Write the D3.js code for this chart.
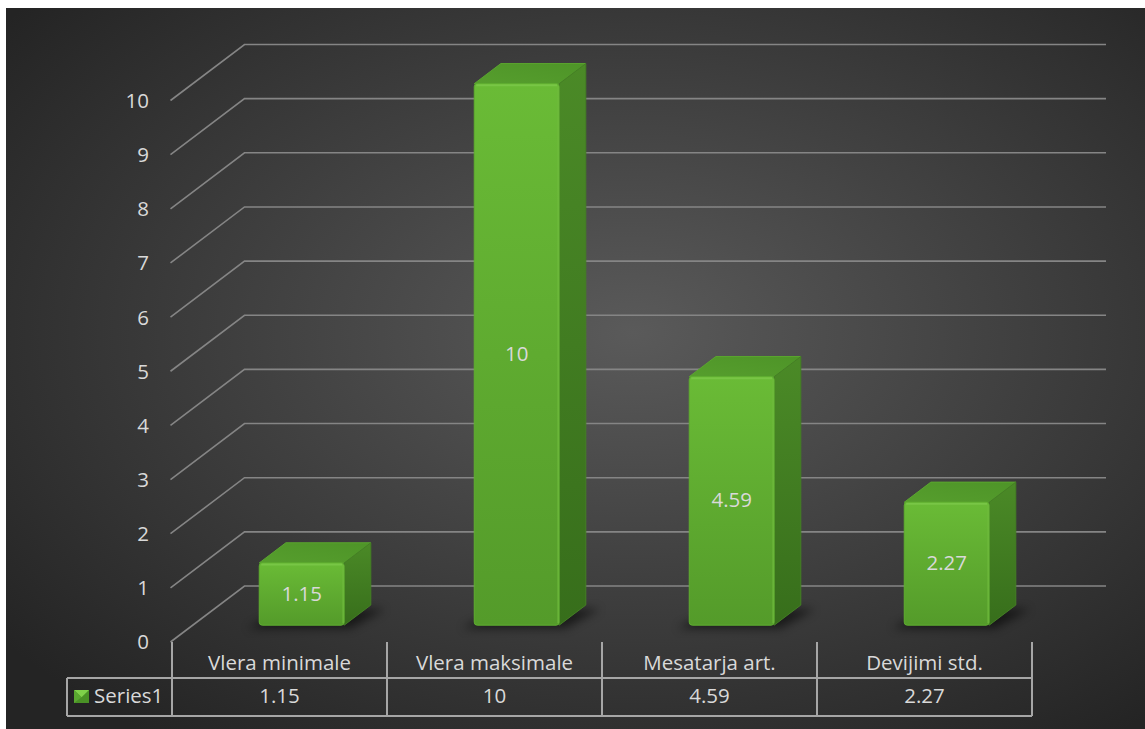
<!DOCTYPE html>
<html>
<head>
<meta charset="utf-8">
<script src="https://cdn.jsdelivr.net/npm/d3@7"></script>
<style>
  html, body { margin: 0; padding: 0; background: #ffffff; }
  svg { display: block; }
  text { font-family: "Open Sans", "Lato", sans-serif; fill: #d9d9d9; }
</style>
</head>
<body>
<svg id="chart" width="1145" height="729"></svg>
<script>
// Chart data
const categories = ["Vlera minimale", "Vlera maksimale", "Mesatarja art.", "Devijimi std."];
const values = [1.15, 10, 4.59, 2.27];
const valueLabels = ["1.15", "10", "4.59", "2.27"];
const yTicks = [0, 1, 2, 3, 4, 5, 6, 7, 8, 9, 10];
const seriesName = "Series1";

const W = 1145, H = 729;
const FS = 20.5;
const svg = d3.select("#chart");
const defs = svg.append("defs");

// Background: dark radial gradient panel
const bg = defs.append("radialGradient").attr("id", "bg")
  .attr("cx", "55%").attr("cy", "45%").attr("r", "70%");
bg.append("stop").attr("offset", "0%").attr("stop-color", "#5a5a5a");
bg.append("stop").attr("offset", "100%").attr("stop-color", "#242424");
svg.append("rect").attr("x", 6).attr("y", 8).attr("width", W - 6).attr("height", H - 8)
  .attr("fill", "url(#bg)");

// Plot geometry (oblique 3D projection)
const floorY = 642;          // front edge of the floor (value 0)
const depth = [74, -56];     // full depth vector of the plot box
const x = d3.scaleBand().domain(categories).range([172, 1032]).padding(0);
const y = d3.scaleLinear().domain([0, 10]).range([floorY, 100.5]);

// Gridlines: diagonal floor/side segment, then horizontal along the back wall
const grid = svg.append("g").attr("fill", "none").attr("stroke", "#858585").attr("stroke-width", 1.6);
yTicks.forEach(t => {
  const x0 = 170.5, y0 = y(t);
  const x1 = x0 + depth[0], y1 = y0 + depth[1];
  grid.append("path")
    .attr("d", `M${x0},${y0} L${x1},${y1} L${x.range()[1] + depth[0]},${y1}`);
});

// Y tick labels
svg.append("g").selectAll("text").data(yTicks).join("text")
  .attr("x", 149).attr("y", d => y(d) + 2)
  .attr("text-anchor", "end").attr("dominant-baseline", "middle")
  .attr("font-size", FS).text(d => d);

// Gradients for bar faces
function linGrad(id, x1, y1, x2, y2, stops) {
  const g = defs.append("linearGradient").attr("id", id)
    .attr("x1", x1).attr("y1", y1).attr("x2", x2).attr("y2", y2);
  stops.forEach(([o, c]) => g.append("stop").attr("offset", o).attr("stop-color", c));
}
linGrad("front", 0, 0, 0, 1, [["0%", "#6abb36"], ["100%", "#549b2a"]]);
linGrad("side", 0, 0, 0, 1, [["0%", "#4b8a27"], ["100%", "#376e1b"]]);
linGrad("top", 0, 1, 1, 0, [["0%", "#569e2d"], ["100%", "#4e9428"]]);

const blur = defs.append("filter").attr("id", "shadow")
  .attr("x", "-50%").attr("y", "-50%").attr("width", "200%").attr("height", "200%");
blur.append("feGaussianBlur").attr("stdDeviation", 5);

// Bars
const t0 = 0.30;                     // front plane of the bars (fraction of depth)
const bd = 0.36;                     // bar depth (fraction of depth)
const bw = x.bandwidth() * 0.395;    // bar width
const dx = depth[0] * bd, dy = depth[1] * bd;

const bars = svg.append("g");
categories.forEach((c, i) => {
  const v = values[i];
  const xl = x(c) + x.bandwidth() / 2 - bw / 2 + depth[0] * t0;
  const xr = xl + bw;
  const yb = floorY + depth[1] * t0;
  const yt = y(v) + depth[1] * t0;
  const g = bars.append("g");

  // soft shadow on the floor
  g.append("path")
    .attr("d", `M${xl - 12},${yb + 3} L${xr + 6},${yb + 3} L${xr + dx + 14},${yb + dy + 4} L${xl + dx},${yb + dy + 4} Z`)
    .attr("fill", "#000").attr("opacity", 0.55).attr("filter", "url(#shadow)");

  // top face
  g.append("path")
    .attr("d", `M${xl},${yt} L${xl + dx},${yt + dy} L${xr + dx},${yt + dy} L${xr},${yt} Z`)
    .attr("fill", "url(#top)").attr("stroke", "#5aa52f").attr("stroke-width", 1)
    .attr("stroke-linejoin", "round");
  // side face
  g.append("path")
    .attr("d", `M${xr},${yt} L${xr + dx},${yt + dy} L${xr + dx},${yb + dy} L${xr},${yb} Z`)
    .attr("fill", "url(#side)").attr("stroke", "#447f24").attr("stroke-width", 1)
    .attr("stroke-linejoin", "round");
  // front face
  g.append("rect")
    .attr("x", xl).attr("y", yt).attr("width", bw).attr("height", yb - yt)
    .attr("rx", 3).attr("fill", "url(#front)")
    .attr("stroke", "#5fae30").attr("stroke-width", 1);
  // bevel highlights
  g.append("path")
    .attr("d", `M${xl + 2},${yt + 1.5} L${xr - 2},${yt + 1.5}`)
    .attr("stroke", "#7cc94a").attr("stroke-width", 2).attr("opacity", 0.8);
  g.append("path")
    .attr("d", `M${xr - 1},${yt + 2} L${xr - 1},${yb - 2}`)
    .attr("stroke", "#70bb3e").attr("stroke-width", 1.5).attr("opacity", 0.8);

  // value label
  g.append("text")
    .attr("x", (xl + xr) / 2).attr("y", (yt + yb) / 2 + 1)
    .attr("text-anchor", "middle").attr("dominant-baseline", "middle")
    .attr("font-size", FS).attr("fill", "#e8e8e8")
    .text(valueLabels[i]);
});

// Data table under the plot
const tbl = svg.append("g").attr("stroke", "#a6a6a6").attr("stroke-width", 2).attr("fill", "none");
const rowTop = 678, rowBot = 716, tblLeft = 67, tblRight = x.range()[1];
tbl.append("path").attr("d", `M${tblLeft},${rowTop} H${tblRight}`);
tbl.append("path").attr("d", `M${tblLeft},${rowBot} H${tblRight}`);
tbl.append("path").attr("d", `M${tblLeft},${rowTop} V${rowBot}`);
[...categories.map(c => x(c)), tblRight].forEach(xx => {
  tbl.append("path").attr("d", `M${xx},${floorY} V${rowBot}`);
});

// category names row
svg.append("g").selectAll("text").data(categories).join("text")
  .attr("x", d => x(d) + x.bandwidth() / 2).attr("y", 665)
  .attr("text-anchor", "middle").attr("dominant-baseline", "middle")
  .attr("font-size", FS).text(d => d);

// values row
svg.append("g").selectAll("text").data(categories).join("text")
  .attr("x", d => x(d) + x.bandwidth() / 2).attr("y", 698)
  .attr("text-anchor", "middle").attr("dominant-baseline", "middle")
  .attr("font-size", FS).text((d, i) => valueLabels[i]);

// legend key + series name
const kx = 74, ky = 690, kw = 15, kh = 13;
svg.append("rect").attr("x", kx).attr("y", ky).attr("width", kw).attr("height", kh).attr("fill", "#4a9226");
svg.append("path").attr("d", `M${kx},${ky} L${kx + kw},${ky} L${kx + kw / 2},${ky + kh * 0.55} Z`).attr("fill", "#7fd14a");
svg.append("path").attr("d", `M${kx},${ky} L${kx + kw / 2},${ky + kh * 0.55} L${kx},${ky + kh} Z`).attr("fill", "#5aa830");
svg.append("text").attr("x", 94).attr("y", 698)
  .attr("dominant-baseline", "middle").attr("font-size", FS).text(seriesName);
</script>
</body>
</html>
